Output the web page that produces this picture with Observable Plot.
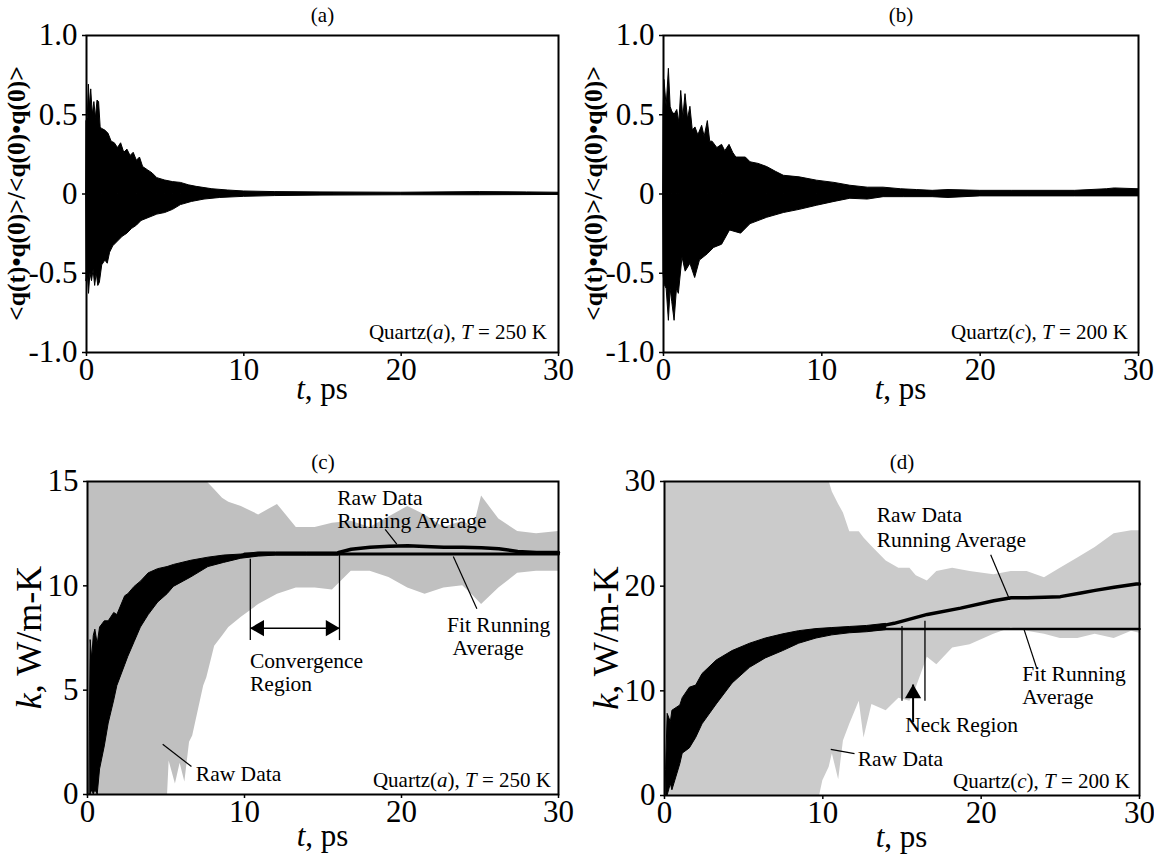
<!DOCTYPE html>
<html><head><meta charset="utf-8">
<script src="https://cdn.jsdelivr.net/npm/d3@7"></script>
<script src="https://cdn.jsdelivr.net/npm/@observablehq/plot@0.6"></script>
<style>
body{margin:0;background:#fff;}
#root{position:relative;width:1154px;height:857px;background:#fff;overflow:hidden;}
#root svg{position:absolute;overflow:visible;}
</style></head><body><div id="root"></div>
<script>
// ---------- tick values / labels ----------
const xTicks = [0, 10, 20, 30];
const xTickLabels = ["0", "10", "20", "30"];
const yTicksAB = [-1, -0.5, 0, 0.5, 1];
const yTickLabelsAB = ["-1.0", "-0.5", "0", "0.5", "1.0"];
const yTicksC = [0, 5, 10, 15];
const yTickLabelsC = ["0", "5", "10", "15"];
const yTicksD = [0, 10, 20, 30];
const yTickLabelsD = ["0", "10", "20", "30"];
const panelTitles = ["(a)", "(b)", "(c)", "(d)"];

// ---------- (a) autocorrelation envelope, Quartz(a) 250 K ----------
const aUpT = [0, 0.08, 0.15, 0.22, 0.3, 0.4, 0.5, 0.6, 0.7, 0.8, 0.9, 1.0, 1.2, 1.4, 1.6, 1.8, 2.0, 2.2, 2.4, 2.6, 2.8, 3.0, 3.2, 3.4, 3.6, 3.9, 4.2, 4.5, 5.0, 5.5, 6.0, 6.5, 7.0, 8.0, 9.0, 10, 12, 15, 20, 25, 28, 30];
const aUp  = [0.46, 0.48, 0.69, 0.55, 0.66, 0.5, 0.58, 0.48, 0.59, 0.58, 0.42, 0.41, 0.40, 0.38, 0.33, 0.32, 0.29, 0.32, 0.26, 0.28, 0.24, 0.26, 0.21, 0.23, 0.17, 0.15, 0.13, 0.10, 0.085, 0.075, 0.07, 0.055, 0.045, 0.03, 0.022, 0.016, 0.012, 0.01, 0.008, 0.012, 0.01, 0.008];
const aLoT = [0, 0.08, 0.16, 0.25, 0.35, 0.45, 0.55, 0.65, 0.75, 0.85, 1.0, 1.2, 1.35, 1.5, 1.7, 2.0, 2.3, 2.6, 2.9, 3.2, 3.5, 4.0, 4.5, 5.0, 5.5, 6.0, 6.7, 7.5, 8.5, 10, 12, 15, 20, 25, 30];
const aLo  = [-0.55, -0.5, -0.63, -0.5, -0.55, -0.48, -0.58, -0.5, -0.58, -0.56, -0.45, -0.42, -0.44, -0.37, -0.33, -0.3, -0.27, -0.25, -0.22, -0.2, -0.17, -0.15, -0.13, -0.12, -0.1, -0.07, -0.05, -0.035, -0.025, -0.018, -0.013, -0.01, -0.008, -0.008, -0.006];

// ---------- (b) autocorrelation envelope, Quartz(c) 200 K ----------
const bUpT = [0, 0.06, 0.2, 0.34, 0.45, 0.55, 0.7, 0.87, 1.0, 1.12, 1.25, 1.39, 1.55, 1.7, 1.85, 2.02, 2.2, 2.44, 2.6, 2.8, 2.95, 3.1, 3.4, 3.7, 3.9, 4.17, 4.4, 4.6, 5.2, 5.5, 6.0, 6.55, 7.1, 7.6, 8.6, 9.7, 10.8, 11.8, 12.9, 13.9, 15, 16, 17, 18, 20, 22, 24, 26, 28, 28.5, 30];
const bUp  = [0.5, 0.72, 0.55, 0.79, 0.55, 0.52, 0.5, 0.53, 0.45, 0.65, 0.48, 0.63, 0.47, 0.55, 0.4, 0.42, 0.37, 0.43, 0.36, 0.46, 0.33, 0.33, 0.29, 0.31, 0.27, 0.31, 0.26, 0.23, 0.23, 0.2, 0.19, 0.17, 0.14, 0.115, 0.105, 0.084, 0.07, 0.052, 0.04, 0.04, 0.03, 0.025, 0.02, 0.025, 0.02, 0.02, 0.02, 0.02, 0.03, 0.035, 0.03];
const bLoT = [0, 0.06, 0.2, 0.34, 0.45, 0.55, 0.7, 0.85, 0.97, 1.2, 1.4, 1.7, 2.0, 2.3, 2.8, 3.2, 3.7, 4.2, 4.9, 5.5, 6.55, 7.6, 8.6, 9.7, 10.8, 11.8, 12.9, 13.9, 15.2, 17, 18, 20, 23, 26, 30];
const bLo  = [-0.5, -0.57, -0.6, -0.8, -0.6, -0.68, -0.8, -0.6, -0.63, -0.4, -0.49, -0.44, -0.53, -0.42, -0.38, -0.34, -0.32, -0.23, -0.25, -0.19, -0.15, -0.12, -0.1, -0.074, -0.05, -0.03, -0.035, -0.02, -0.02, -0.02, -0.025, -0.015, -0.015, -0.015, -0.015];

// ---------- (c) thermal conductivity, Quartz(a) 250 K ----------
const cRawT  = [0, 5.1, 5.2, 5.6, 5.9, 6.2, 6.5, 6.7, 7.4, 7.6, 8.1, 8.6, 9.0, 9.8, 10.9, 12.1, 13.3, 14.5, 15.6, 16.8, 18.0, 19.2, 20.4, 21.5, 22.7, 23.9, 24.6, 25.1, 26.2, 27.4, 28.6, 30];
const cRawHi = [15, 15, 15, 15, 15, 15, 15, 15, 15, 15, 14.6, 14.2, 14.0, 13.8, 13.4, 13.9, 12.8, 12.8, 13.0, 13.1, 12.8, 13.3, 13.8, 13.4, 12.8, 13.1, 12.8, 14.3, 13.2, 12.6, 12.5, 12.6];
const cRawLo = [0, 0, 1.6, 0.5, 1.5, 0.6, 2.5, 2.8, 5.2, 5.6, 7.1, 7.6, 8.0, 8.5, 9.1, 9.6, 9.9, 9.9, 9.8, 10.7, 10.7, 10.4, 9.9, 9.6, 9.9, 10.0, 9.5, 9.1, 9.9, 10.6, 10.7, 10.7];
const cAvgT  = [0.15, 0.2, 0.3, 0.4, 0.5, 0.65, 0.8, 1.1, 1.35, 1.7, 1.9, 2.4, 2.6, 3.0, 3.4, 3.9, 4.5, 5.1, 5.5, 6.6, 7.7, 8.7, 9.8, 10.9, 12, 14, 16];
const cAvgHi = [3.0, 7.4, 6.5, 7.6, 7.9, 7.2, 8.0, 8.3, 8.3, 8.7, 8.6, 9.5, 9.6, 9.95, 10.2, 10.6, 10.8, 10.9, 11.0, 11.2, 11.35, 11.45, 11.5, 11.6, 11.6, 11.6, 11.6];
const cAvgLo = [0, 0, 0.2, 0, 0.2, 0, 1.2, 2.3, 3.4, 4.5, 5.2, 6.2, 6.6, 7.3, 8.0, 8.6, 9.2, 9.6, 9.95, 10.4, 10.9, 11.1, 11.3, 11.4, 11.45, 11.45, 11.45];
const cAvgLateT = [16, 16.8, 18, 19.2, 20.4, 21.5, 22.7, 23.9, 25.1, 26.2, 27.4, 28.6, 30];
const cAvgLate  = [11.6, 11.75, 11.85, 11.9, 11.92, 11.88, 11.85, 11.85, 11.82, 11.78, 11.65, 11.6, 11.6];
const cFitT = [10, 30];
const cFitK = [11.52, 11.52];

// (c) annotations (data coordinates)
const cNoteText = ["Raw Data", "Running Average", "Fit Running", "Average", "Convergence", "Region", "Raw Data"];
const cNoteT = [15.9, 15.9, 22.9, 23.25, 10.35, 10.35, 6.9];
const cNoteK = [14.2, 13.1, 8.1, 7.0, 6.4, 5.3, 1.0];
const cPtrT1 = [4.79, 18.96, 23.3], cPtrK1 = [2.41, 12.7, 11.4];
const cPtrT2 = [6.62, 19.7, 24.8],  cPtrK2 = [1.34, 12.0, 8.9];
const cRegionT = [10.37, 16.05], cRegionTop = [11.3, 11.5], cRegionBottom = 7.4;
const cArrowK = 7.97;

// ---------- (d) thermal conductivity, Quartz(c) 200 K ----------
const dRawT  = [0, 9.8, 10.0, 10.4, 10.6, 11.0, 11.3, 11.7, 12.3, 12.6, 13.1, 14.0, 14.8, 15.5, 15.9, 16.6, 17.2, 18.2, 19.3, 20.8, 21.9, 22.9, 24.0, 25.0, 26.1, 27.2, 28.4, 29.5, 30];
const dRawHi = [30, 30, 30, 30, 29, 27.8, 27, 25.2, 25.2, 24.6, 23.8, 22.4, 21.7, 21.7, 21.0, 20.5, 21.4, 21.7, 21.4, 21.1, 21.4, 21.4, 20.8, 21.7, 22.7, 23.7, 25.0, 25.3, 25.3];
const dRawLo = [0, 0, 1.4, 2.7, 4.0, 1.5, 5.2, 6.8, 9.0, 5.5, 8.7, 8.1, 9.3, 9.0, 10.3, 13.2, 12.5, 14.1, 14.4, 15.4, 16.0, 15.7, 15.4, 15.0, 15.0, 15.4, 15.0, 15.7, 15.5];
const dAvgT  = [0.1, 0.2, 0.4, 0.5, 1.0, 1.15, 1.6, 2.0, 2.4, 3.3, 4.3, 5.4, 6.4, 7.5, 8.5, 9.6, 10.6, 11.7, 12.8, 14.0];
const dAvgHi = [2.5, 7.8, 7.0, 8.1, 8.6, 9.3, 10.3, 10.5, 11.6, 12.9, 13.8, 14.5, 15.0, 15.4, 15.7, 15.9, 16.0, 16.1, 16.2, 16.4];
const dAvgLo = [0, 0, 1.1, 0.5, 3.0, 4.0, 4.5, 5.5, 6.8, 8.7, 10.7, 12.2, 13.1, 13.8, 14.5, 15.0, 15.3, 15.5, 15.6, 15.8];
const dAvgLateT = [14, 14.5, 16.6, 18.7, 20.8, 21.9, 22.9, 24, 25, 26.3, 27.2, 28.4, 29.8, 30];
const dAvgLate  = [16.3, 16.45, 17.3, 17.9, 18.6, 18.9, 18.9, 18.95, 19.0, 19.35, 19.6, 19.9, 20.2, 20.2];
const dFitT = [12, 30];
const dFitK = [15.9, 15.9];

// (d) annotations (data coordinates)
const dNoteText = ["Raw Data", "Running Average", "Fit Running", "Average", "Neck Region", "Raw Data"];
const dNoteT = [13.4, 13.4, 22.6, 22.6, 15.2, 12.2];
const dNoteK = [26.8, 24.4, 11.6, 9.4, 6.7, 3.5];
const dPtrT1 = [20.6, 22.7, 10.5], dPtrK1 = [23.0, 15.9, 4.4];
const dPtrT2 = [21.8, 23.5, 12.0], dPtrK2 = [18.7, 12.2, 4.0];
const dNeckT = [15.0, 16.45], dNeckTop = [16.2, 16.7], dNeckBottom = 9.05;
const dArrowT = 15.7, dArrowK = [7.0, 10.6];

// ---------- helpers ----------
const FONT = "'Liberation Serif','Times New Roman',serif";
const TICK_FS = 31;
const root = document.getElementById("root");
const zip = (ts, vs) => ts.map((t, i) => ({t, v: vs[i]}));
const band = (ts, lo, hi) => ts.map((t, i) => ({t, lo: lo[i], hi: hi[i]}));
const idx = n => d3.range(n);

function panel({left, top, width, height, margins, yDomain, yTicks, yTickLabels, marks, title, titleDy}) {
  const p = Plot.plot({
    width, height, ...margins,
    x: {domain: [0, 30]},
    y: {domain: yDomain},
    style: {fontFamily: FONT, fontSize: TICK_FS + "px", color: "black", background: "transparent", overflow: "visible"},
    marks: [
      ...marks,
      Plot.axisX({ticks: xTicks, tickFormat: d => xTickLabels[xTicks.indexOf(d)], tickSize: 4, tickPadding: 1, label: null, strokeWidth: 1.5, fontSize: TICK_FS}),
      Plot.axisY({ticks: yTicks, tickFormat: d => yTickLabels[yTicks.indexOf(d)], tickSize: 4, tickPadding: 5, label: null, strokeWidth: 1.5, fontSize: TICK_FS}),
      Plot.frame({stroke: "black", strokeWidth: 2}),
      Plot.text([title], {text: d => d, frameAnchor: "top", lineAnchor: "middle", dy: titleDy, fontSize: 21})
    ]
  });
  p.style.left = left + "px";
  p.style.top = top + "px";
  root.appendChild(p);
  return p;
}

function frameBox(p) {
  const sx = p.scale("x"), sy = p.scale("y");
  return {x0: Math.min(...sx.range), x1: Math.max(...sx.range), y0: Math.min(...sy.range), y1: Math.max(...sy.range)};
}

function rich(p, x, y, parts, {anchor = "start", size = 20, rotate = 0, weight = "normal", baseline = null} = {}) {
  const t = d3.select(p).append("text")
    .attr("transform", `translate(${x},${y}) rotate(${rotate})`)
    .attr("text-anchor", anchor)
    .attr("font-family", FONT)
    .attr("font-size", size)
    .attr("font-weight", weight)
    .attr("fill", "black");
  if (baseline) t.attr("dominant-baseline", baseline);
  parts.forEach(([s, st]) => t.append("tspan").attr("font-style", st === "i" ? "italic" : null).text(s));
}

function decorate(p, {yLabel, yLabelX, yLabelWeight, yLabelSize, quartz, qdx, qdy, xLabelDy}) {
  const b = frameBox(p);
  const cx = (b.x0 + b.x1) / 2, cy = (b.y0 + b.y1) / 2;
  rich(p, cx, b.y1 + xLabelDy, [["t", "i"], [", ps", ""]], {anchor: "middle", size: 31});
  rich(p, yLabelX, cy, yLabel, {anchor: "middle", size: yLabelSize, rotate: -90, weight: yLabelWeight, baseline: "central"});
  rich(p, b.x1 - qdx, b.y1 - qdy, quartz, {anchor: "end", size: 21});
}

const corrLabel = [["<q(t)•q(0)>/<q(0)•q(0)>", ""]];
const kLabel = [["k", "i"], [", W/m-K", ""]];

// ---------- (a) ----------
const pa = panel({
  left: 0, top: 0, width: 577, height: 420, titleDy: -20,
  margins: {marginLeft: 86, marginRight: 19, marginTop: 35, marginBottom: 68},
  yDomain: [-1, 1], yTicks: yTicksAB, yTickLabels: yTickLabelsAB, title: panelTitles[0],
  marks: [
    Plot.areaY(zip(aUpT, aUp), {x: "t", y1: 0, y2: "v", fill: "black", stroke: "black", strokeWidth: 1}),
    Plot.areaY(zip(aLoT, aLo), {x: "t", y1: "v", y2: 0, fill: "black", stroke: "black", strokeWidth: 1})
  ]
});
decorate(pa, {yLabel: corrLabel, yLabelX: 16, yLabelWeight: "bold", yLabelSize: 25.5, quartz: [["Quartz(", ""], ["a", "i"], ["), ", ""], ["T", "i"], [" = 250 K", ""]], qdx: 11, qdy: 13, xLabelDy: 47});

// ---------- (b) ----------
const pb = panel({
  left: 577, top: 0, width: 577, height: 420, titleDy: -20,
  margins: {marginLeft: 86, marginRight: 16, marginTop: 35, marginBottom: 68},
  yDomain: [-1, 1], yTicks: yTicksAB, yTickLabels: yTickLabelsAB, title: panelTitles[1],
  marks: [
    Plot.areaY(zip(bUpT, bUp), {x: "t", y1: 0, y2: "v", fill: "black", stroke: "black", strokeWidth: 1}),
    Plot.areaY(zip(bLoT, bLo), {x: "t", y1: "v", y2: 0, fill: "black", stroke: "black", strokeWidth: 1})
  ]
});
decorate(pb, {yLabel: corrLabel, yLabelX: 16, yLabelWeight: "bold", yLabelSize: 25.5, quartz: [["Quartz(", ""], ["c", "i"], ["), ", ""], ["T", "i"], [" = 200 K", ""]], qdx: 10, qdy: 13, xLabelDy: 47});

// ---------- (c) ----------
const cn = idx(cNoteText.length), cp = idx(cPtrT1.length);
const pc = panel({
  left: 0, top: 420, width: 577, height: 437, titleDy: -19,
  margins: {marginLeft: 87, marginRight: 19, marginTop: 61, marginBottom: 63},
  yDomain: [0, 15], yTicks: yTicksC, yTickLabels: yTickLabelsC, title: panelTitles[2],
  marks: [
    Plot.areaY(band(cRawT, cRawLo, cRawHi), {x: "t", y1: "lo", y2: "hi", fill: "#c0c0c0", clip: true}),
    Plot.areaY(band(cAvgT, cAvgLo, cAvgHi), {x: "t", y1: "lo", y2: "hi", fill: "black", stroke: "black", strokeWidth: 1, clip: true}),
    Plot.line(zip(cFitT, cFitK), {x: "t", y: "v", stroke: "black", strokeWidth: 3}),
    Plot.line(zip(cAvgLateT, cAvgLate), {x: "t", y: "v", stroke: "black", strokeWidth: 3.5}),
    Plot.link(cp, {x1: i => cPtrT1[i], y1: i => cPtrK1[i], x2: i => cPtrT2[i], y2: i => cPtrK2[i], stroke: "black", strokeWidth: 1.2}),
    Plot.link(cRegionT, {x1: d => d, x2: d => d, y1: cRegionBottom, y2: (d, i) => cRegionTop[i], stroke: "black", strokeWidth: 1.3}),
    Plot.link([0], {x1: cRegionT[0], x2: cRegionT[1], y1: cArrowK, y2: cArrowK, stroke: "black", strokeWidth: 1.5}),
    Plot.dot([0], {x: cRegionT[0], y: cArrowK, symbol: "triangle", r: 6, fill: "black", rotate: -90, dx: 9}),
    Plot.dot([0], {x: cRegionT[1], y: cArrowK, symbol: "triangle", r: 6, fill: "black", rotate: 90, dx: -9}),
    Plot.text(cn, {x: i => cNoteT[i], y: i => cNoteK[i], text: i => cNoteText[i], textAnchor: "start", fontSize: 21.5, fill: "black"})
  ]
});
decorate(pc, {yLabel: kLabel, yLabelX: 29, yLabelWeight: "normal", yLabelSize: 36, quartz: [["Quartz(", ""], ["a", "i"], ["), ", ""], ["T", "i"], [" = 250 K", ""]], qdx: 7, qdy: 7, xLabelDy: 52});

// ---------- (d) ----------
const dn = idx(dNoteText.length), dp = idx(dPtrT1.length);
const pd = panel({
  left: 577, top: 420, width: 577, height: 437, titleDy: -19,
  margins: {marginLeft: 87, marginRight: 15, marginTop: 61, marginBottom: 62},
  yDomain: [0, 30], yTicks: yTicksD, yTickLabels: yTickLabelsD, title: panelTitles[3],
  marks: [
    Plot.areaY(band(dRawT, dRawLo, dRawHi), {x: "t", y1: "lo", y2: "hi", fill: "#cbcbcb", clip: true}),
    Plot.areaY(band(dAvgT, dAvgLo, dAvgHi), {x: "t", y1: "lo", y2: "hi", fill: "black", stroke: "black", strokeWidth: 1, clip: true}),
    Plot.line(zip(dFitT, dFitK), {x: "t", y: "v", stroke: "black", strokeWidth: 2.5}),
    Plot.line(zip(dAvgLateT, dAvgLate), {x: "t", y: "v", stroke: "black", strokeWidth: 3.5}),
    Plot.link(dp, {x1: i => dPtrT1[i], y1: i => dPtrK1[i], x2: i => dPtrT2[i], y2: i => dPtrK2[i], stroke: "black", strokeWidth: 1.2}),
    Plot.link(dNeckT, {x1: d => d, x2: d => d, y1: dNeckBottom, y2: (d, i) => dNeckTop[i], stroke: "black", strokeWidth: 1.3}),
    Plot.link([0], {x1: dArrowT, x2: dArrowT, y1: dArrowK[0], y2: dArrowK[1], stroke: "black", strokeWidth: 2}),
    Plot.dot([0], {x: dArrowT, y: dArrowK[1], symbol: "triangle", r: 6, fill: "black", dy: 9}),
    Plot.text(dn, {x: i => dNoteT[i], y: i => dNoteK[i], text: i => dNoteText[i], textAnchor: "start", fontSize: 21.5, fill: "black"})
  ]
});
decorate(pd, {yLabel: kLabel, yLabelX: 29, yLabelWeight: "normal", yLabelSize: 36, quartz: [["Quartz(", ""], ["c", "i"], ["), ", ""], ["T", "i"], [" = 200 K", ""]], qdx: 9, qdy: 7, xLabelDy: 52});
</script></body></html>
